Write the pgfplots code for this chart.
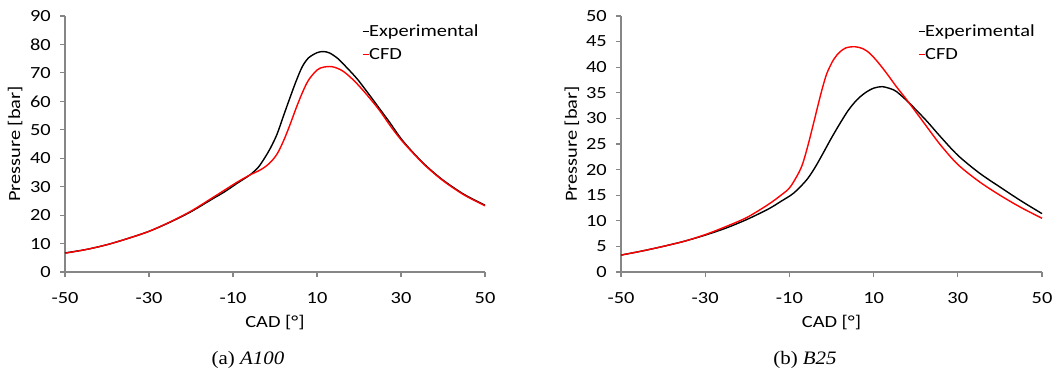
\documentclass[border=0pt]{standalone}
\usepackage{pgfplots}
\pgfplotsset{compat=1.18}
\usepackage{fontspec}
\setmainfont{Carlito}[FakeStretch=1.2]
\newfontfamily\capfont{Liberation Serif}[FakeStretch=1.1]
\definecolor{axgray}{HTML}{868686}
\definecolor{cfdred}{HTML}{FF0000}
\pgfplotstableread{
x y
-50 6.7
-45 7.9
-40 9.6
-35 11.8
-30 14.3
-25 17.5
-20 21.2
-15 25.6
-12 28.2
-9 31.2
-6 34.1
-4 36.8
-2.5 40
-1 43.8
0.5 48.5
2 54.8
3.5 61
5 67
6.5 72.2
8 75.3
10 77.1
11.5 77.5
13 77
15 75
17 72
19.5 68
22 63.2
25 57.2
27.4 52.4
30 46.9
33 41.8
36 37.3
40 32.3
45 27.3
50 23.5
}\expA
\pgfplotstableread{
x y
-50 6.6
-45 7.9
-40 9.6
-35 11.8
-30 14.3
-25 17.6
-20 21.4
-15 26
-12 28.8
-9 31.6
-6 34.1
-4 35.5
-2.5 36.8
-1 38.7
0.5 41.5
2 46
3.5 51.5
5 57.5
6.5 63
8 67.5
10 71
11.5 72
13.5 72.2
15.5 71.2
17 69.7
19 67
21 63.8
23 60.3
25 56.6
27.4 51.5
30 46.5
33 41.6
36 37.1
40 32.1
45 27.1
50 23.3
}\cfdA
\pgfplotstableread{
x y
-50 3.3
-45 4.1
-40 5.0
-35 6.0
-30 7.2
-25 8.6
-20 10.3
-15 12.3
-12 13.8
-9 15.4
-6 17.9
-4 20.3
-2 23.2
0 26.2
2 29
4 31.6
6 33.6
8 35
10 35.9
12 36.2
14 35.8
15.5 35.2
18.6 32.9
22.6 29.5
25.8 26.5
30 22.8
35 19.4
40 16.6
45 13.9
50 11.4
}\expB
\pgfplotstableread{
x y
-50 3.3
-45 4.1
-40 5.0
-35 6.0
-30 7.3
-25 8.9
-20 10.7
-15 13.2
-12 15
-10 16.4
-8.3 18.6
-7 20.8
-5.9 23.8
-4.7 27.6
-3.5 31.6
-2.3 35.5
-1.1 38.8
0.5 41.5
2 43
3.5 43.8
5.6 44
7.5 43.6
9.1 42.7
11 41
13.1 38.8
15.5 36.1
17.9 33.6
21.8 29.3
25.8 24.9
30 21.0
35 17.7
40 15.0
45 12.6
50 10.5
}\cfdB
\begin{document}
\begin{tikzpicture}
\path (0pt,0pt) rectangle (1056pt,369pt);
\pgfplotsset{
  myax/.style={
    scale only axis, height=256pt, anchor=south west,
    xmin=-50, xmax=50, ymin=0, clip=false,
    xtick={-50,-30,-10,10,30,50},
    xticklabels={-50,-30,-10,10,30,50},
    axis x line*=bottom, axis y line*=left,
    x axis line style={axgray, line width=1.2pt},
    y axis line style={axgray, line width=1.2pt},
    xtick style={axgray, line width=1.2pt},
    ytick style={axgray, line width=1.2pt},
    tick align=outside, major tick length=5pt,
    /pgf/number format/assume math mode=true,
    ticklabel style={font=\fontsize{17}{20}\selectfont},
    xticklabel style={anchor=base, inner sep=0pt, yshift=-26pt},
    yticklabel style={anchor=east, inner sep=0pt, xshift=-9pt},
    label style={font=\fontsize{17}{20}\selectfont},
    xlabel={CAD [°]},
    ylabel={Pressure [bar]},
    xlabel style={at={(axis description cs:0.5,-0.197)}, anchor=center},
    legend style={draw=none, fill=none, font=\fontsize{17}{20}\selectfont,
      at={(0.707,0.968)}, anchor=north west, inner sep=0pt,
      nodes={inner sep=0pt, anchor=west}, row sep=11pt, column sep=0pt},
    legend cell align=left,
    legend image code/.code={\draw[##1, line width=1pt] (0pt,0pt) -- (6pt,0pt);},
    every axis plot/.append style={line width=1.4pt},
  }
}
\begin{axis}[myax, at={(65pt,97pt)}, width=420pt,
  ymax=90, ytick={0,10,...,90},
  ylabel style={at={(axis description cs:-0.119,0.5)}, anchor=center}]
\draw[axgray, line width=1.2pt] (rel axis cs:0,1) -- (rel axis cs:0,0) -- (rel axis cs:1,0);
\pgfplotsinvokeforeach{-50,-30,-10,10,30,50}{\draw[axgray, line width=1.2pt] (axis cs:#1,0) -- ++(0pt,-5pt);}
\pgfplotsinvokeforeach{0,10,20,30,40,50,60,70,80,90}{\draw[axgray, line width=1.2pt] (axis cs:-50,#1) -- ++(-5pt,0pt);}
\addplot[black, smooth] table[x=x,y=y] {\expA};
\addlegendentry{Experimental}
\addplot[cfdred, smooth] table[x=x,y=y] {\cfdA};
\addlegendentry{CFD}
\end{axis}
\begin{axis}[myax, at={(621pt,97pt)}, width=421pt,
  ymax=50, ytick={0,5,...,50},
  ylabel style={at={(axis description cs:-0.1164,0.5)}, anchor=center},
  legend style={at={(0.7055,0.968)}}]
\draw[axgray, line width=1.2pt] (rel axis cs:0,1) -- (rel axis cs:0,0) -- (rel axis cs:1,0);
\pgfplotsinvokeforeach{-50,-30,-10,10,30,50}{\draw[axgray, line width=1.2pt] (axis cs:#1,0) -- ++(0pt,-5pt);}
\pgfplotsinvokeforeach{0,5,10,15,20,25,30,35,40,45,50}{\draw[axgray, line width=1.2pt] (axis cs:-50,#1) -- ++(-5pt,0pt);}
\addplot[black, smooth] table[x=x,y=y] {\expB};
\addlegendentry{Experimental}
\addplot[cfdred, smooth] table[x=x,y=y] {\cfdB};
\addlegendentry{CFD}
\end{axis}
\node[anchor=base, font=\capfont\fontsize{19}{22}\selectfont] at (248pt,4.5pt) {(a) \textit{A100}};
\node[anchor=base, font=\capfont\fontsize{19}{22}\selectfont] at (805pt,4.5pt) {(b) \textit{B25}};
\end{tikzpicture}
\end{document}
